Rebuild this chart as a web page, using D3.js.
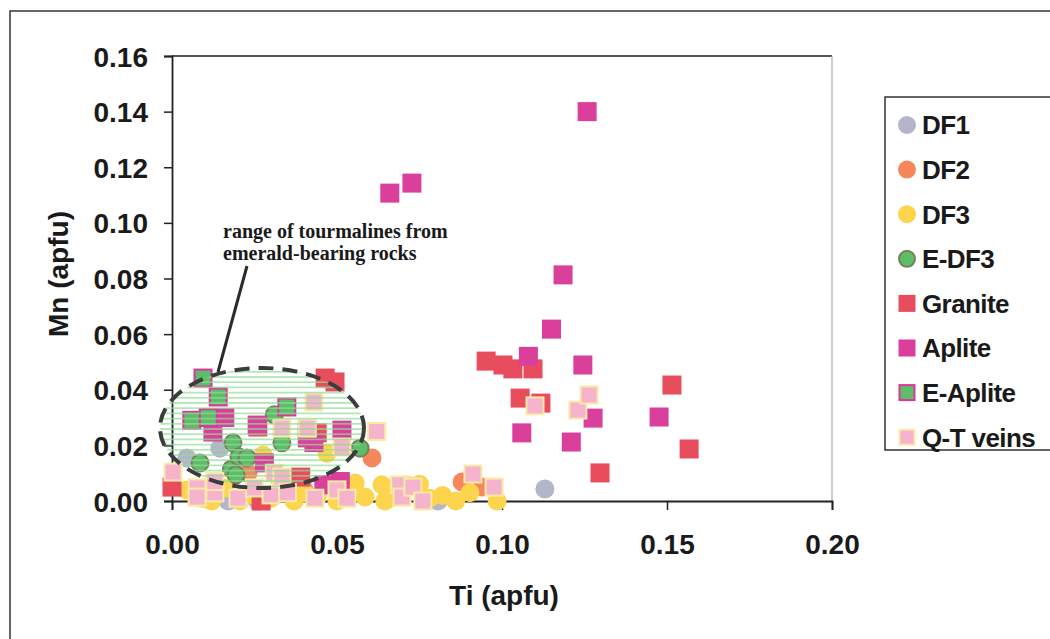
<!DOCTYPE html>
<html>
<head>
<meta charset="utf-8">
<script src="https://cdn.jsdelivr.net/npm/d3@7"></script>
<style>
  body { margin: 0; background: #fff; }
  svg { display: block; }
  text { font-family: "Liberation Sans", Arial, sans-serif; font-weight: bold; fill: #1a1a1a; }
  text.note { font-family: "Liberation Serif", "Times New Roman", serif; }
</style>
</head>
<body>
<svg id="chart" width="1050" height="639"></svg>
<script>
// Ti (apfu), Mn (apfu) pairs
const DF1 = [[0.0045,0.0155],[0.0145,0.019],[0.017,0.0],[0.026,0.0],[0.010,0.001],[0.0806,0.0],[0.113,0.0043]];
const DF2 = [[0.023,0.010],[0.040,0.004],[0.0606,0.0155],[0.0879,0.0068],[0.094,0.005]];
const DF3 = [[0.0045,0.004],[0.009,0.001],[0.012,0.0],[0.016,0.0047],[0.0206,0.0],[0.025,0.002],
  [0.0276,0.0165],[0.030,0.001],[0.032,0.0086],[0.0335,0.004],[0.037,0.0],[0.040,0.003],[0.044,0.0014],
  [0.047,0.0172],[0.050,0.0],[0.0555,0.0065],[0.0585,0.0014],[0.0636,0.0058],[0.0645,0.0],[0.066,0.001],
  [0.072,0.0055],[0.075,0.006],[0.078,0.001],[0.082,0.002],[0.086,0.0],[0.0903,0.003],[0.0985,0.0]];
const E_DF3 = [[0.0085,0.0137],[0.0185,0.0209],[0.018,0.0115],[0.0194,0.0094],[0.0203,0.0158],
  [0.0227,0.0155],[0.031,0.031],[0.0333,0.0209],[0.057,0.019]];
const GRANITE = [[0.0,0.005],[0.027,0.0],[0.039,0.0086],[0.026,0.0266],[0.041,0.0255],[0.044,0.0245],
  [0.0464,0.0442],[0.0494,0.0428],[0.0952,0.0503],[0.1003,0.0489],[0.1033,0.0475],[0.1094,0.0475],
  [0.1055,0.037],[0.1118,0.0352],[0.1515,0.0417],[0.1567,0.0187],[0.1297,0.0101]];
const APLITE = [[0.016,0.030],[0.0124,0.0248],[0.0258,0.0273],[0.028,0.0137],[0.041,0.0227],[0.043,0.021],
  [0.0515,0.0255],[0.046,0.0058],[0.051,0.007],[0.066,0.1107],[0.0727,0.1143],[0.1258,0.140],
  [0.1185,0.0813],[0.115,0.0618],[0.108,0.052],[0.1245,0.0489],[0.1276,0.0298],[0.1476,0.0302],
  [0.106,0.0245],[0.121,0.0212]];
const E_APLITE = [[0.0094,0.0442],[0.014,0.0374],[0.006,0.029],[0.011,0.030],[0.0348,0.0338]];
const QT_VEINS = [[0.0003,0.0104],[0.0076,0.0047],[0.0076,0.0014],[0.013,0.0029],[0.013,0.007],[0.020,0.001],
  [0.025,0.0047],[0.030,0.0022],[0.031,0.010],[0.0333,0.0086],[0.035,0.003],[0.0433,0.001],[0.050,0.004],
  [0.053,0.001],[0.0333,0.0262],[0.041,0.0262],[0.043,0.0356],[0.0515,0.0194],[0.062,0.025],
  [0.069,0.0058],[0.0697,0.0014],[0.073,0.005],[0.076,0.0],[0.0912,0.0097],[0.0976,0.005],
  [0.110,0.0342],[0.123,0.0327],[0.1264,0.0381]];

const xTicks = [0, 0.05, 0.10, 0.15, 0.20];
const yTicks = [0, 0.02, 0.04, 0.06, 0.08, 0.10, 0.12, 0.14, 0.16];

const series = [
  {name: "DF1", data: DF1, shape: "circle", fill: "#b4b4ca", stroke: "none"},
  {name: "DF2", data: DF2, shape: "circle", fill: "#f6875c", stroke: "none"},
  {name: "DF3", data: DF3, shape: "circle", fill: "#fcd44e", stroke: "none"},
  {name: "E-DF3", data: E_DF3, shape: "circle", fill: "#5dbd69", stroke: "#76805a"},
  {name: "Granite", data: GRANITE, shape: "square", fill: "#e84d5e", stroke: "none"},
  {name: "Aplite", data: APLITE, shape: "square", fill: "#da3f9b", stroke: "none"},
  {name: "E-Aplite", data: E_APLITE, shape: "square", fill: "#5dbd69", stroke: "#e0339d"},
  {name: "Q-T veins", data: QT_VEINS, shape: "square", fill: "#f6b3cc", stroke: "#fbe9a8"}
];

const svg = d3.select("#chart");
const x = d3.scaleLinear().domain([0, 0.2]).range([172, 832]);
const y = d3.scaleLinear().domain([0, 0.16]).range([501, 56]);

// outer frame
svg.append("rect").attr("x", 10).attr("y", 11).attr("width", 1100).attr("height", 700)
  .attr("fill", "none").attr("stroke", "#333").attr("stroke-width", 1.5);

// plot frame (top dark, right light)
svg.append("line").attr("x1", x(0)).attr("x2", x(0.2)).attr("y1", y(0.16)).attr("y2", y(0.16))
  .attr("stroke", "#222").attr("stroke-width", 1.5);
svg.append("line").attr("x1", x(0.2)).attr("x2", x(0.2)).attr("y1", y(0.16)).attr("y2", y(0))
  .attr("stroke", "#a8a8c0").attr("stroke-width", 1.2);

const fmt = d3.format(".2f");
const xAxis = svg.append("g").attr("transform", `translate(0,${y(0)})`)
  .call(d3.axisBottom(x).tickValues(xTicks).tickFormat(fmt).tickSize(9).tickPadding(24));
const yAxis = svg.append("g").attr("transform", `translate(${x(0)},0)`)
  .call(d3.axisLeft(y).tickValues(yTicks).tickFormat(fmt).tickSize(8).tickPadding(16));
[xAxis, yAxis].forEach(a => {
  a.select(".domain").attr("stroke", "#222").attr("stroke-width", 1.8);
  a.selectAll(".tick line").attr("stroke", "#222").attr("stroke-width", 1.5);
  a.selectAll(".tick text").attr("font-size", 28).attr("font-family", "Liberation Sans, Arial, sans-serif")
    .attr("font-weight", "bold").attr("fill", "#1a1a1a");
});
yAxis.selectAll(".tick text").attr("dy", "0.36em");

// axis titles
svg.append("text").attr("x", 504).attr("y", 605).attr("text-anchor", "middle")
  .attr("font-size", 28).text("Ti (apfu)");
svg.append("text").attr("transform", "translate(68,274) rotate(-90)").attr("text-anchor", "middle")
  .attr("font-size", 28).text("Mn (apfu)");

// markers
const R = 9.5, S = 19;
const marks = svg.append("g");
series.forEach(s => {
  const g = marks.append("g");
  if (s.shape === "circle") {
    g.selectAll("circle").data(s.data).join("circle")
      .attr("cx", d => x(d[0])).attr("cy", d => y(d[1]))
      .attr("r", s.stroke === "none" ? R : R - 1)
      .attr("fill", s.fill).attr("stroke", s.stroke).attr("stroke-width", 2);
  } else {
    const sz = s.stroke === "none" ? S : S - 2;
    g.selectAll("rect").data(s.data).join("rect")
      .attr("x", d => x(d[0]) - sz / 2).attr("y", d => y(d[1]) - sz / 2)
      .attr("width", sz).attr("height", sz)
      .attr("fill", s.fill).attr("stroke", s.stroke).attr("stroke-width", 2);
  }
});

// hatched ellipse marking the emerald field
const defs = svg.append("defs");
const pat = defs.append("pattern").attr("id", "hatch").attr("patternUnits", "userSpaceOnUse")
  .attr("width", 10).attr("height", 5.2);
pat.append("line").attr("x1", 0).attr("x2", 10).attr("y1", 2.6).attr("y2", 2.6)
  .attr("stroke", "#8edc93").attr("stroke-width", 1.2);
svg.append("ellipse").attr("cx", 262).attr("cy", 428).attr("rx", 102).attr("ry", 60)
  .attr("fill", "url(#hatch)").attr("stroke", "#3c3c3c").attr("stroke-width", 4)
  .attr("stroke-dasharray", "15 9");

// annotation
svg.append("line").attr("x1", 247).attr("y1", 266).attr("x2", 218).attr("y2", 372)
  .attr("stroke", "#2a2a2a").attr("stroke-width", 3);
const note = svg.append("text").attr("class", "note").attr("x", 223).attr("y", 238)
  .attr("font-size", 20);
note.append("tspan").attr("x", 223).text("range of tourmalines from");
note.append("tspan").attr("x", 223).attr("dy", 22).text("emerald-bearing rocks");

// legend
svg.append("rect").attr("x", 885).attr("y", 97).attr("width", 200).attr("height", 353)
  .attr("fill", "#fff").attr("stroke", "#333").attr("stroke-width", 1.5);
const leg = svg.append("g").selectAll("g").data(series).join("g")
  .attr("transform", (d, i) => `translate(907,${125 + i * 44.6})`);
leg.each(function (s) {
  const g = d3.select(this);
  if (s.shape === "circle") {
    g.append("circle").attr("r", s.stroke === "none" ? 9 : 8).attr("fill", s.fill)
      .attr("stroke", s.stroke).attr("stroke-width", 2);
  } else {
    const sz = s.stroke === "none" ? 17 : 15;
    g.append("rect").attr("x", -sz / 2).attr("y", -sz / 2).attr("width", sz).attr("height", sz)
      .attr("fill", s.fill).attr("stroke", s.stroke).attr("stroke-width", 2);
  }
});
leg.append("text").attr("x", 15).attr("dy", "0.36em").attr("font-size", 26)
  .attr("letter-spacing", -0.6).text(s => s.name);
</script>
</body>
</html>
